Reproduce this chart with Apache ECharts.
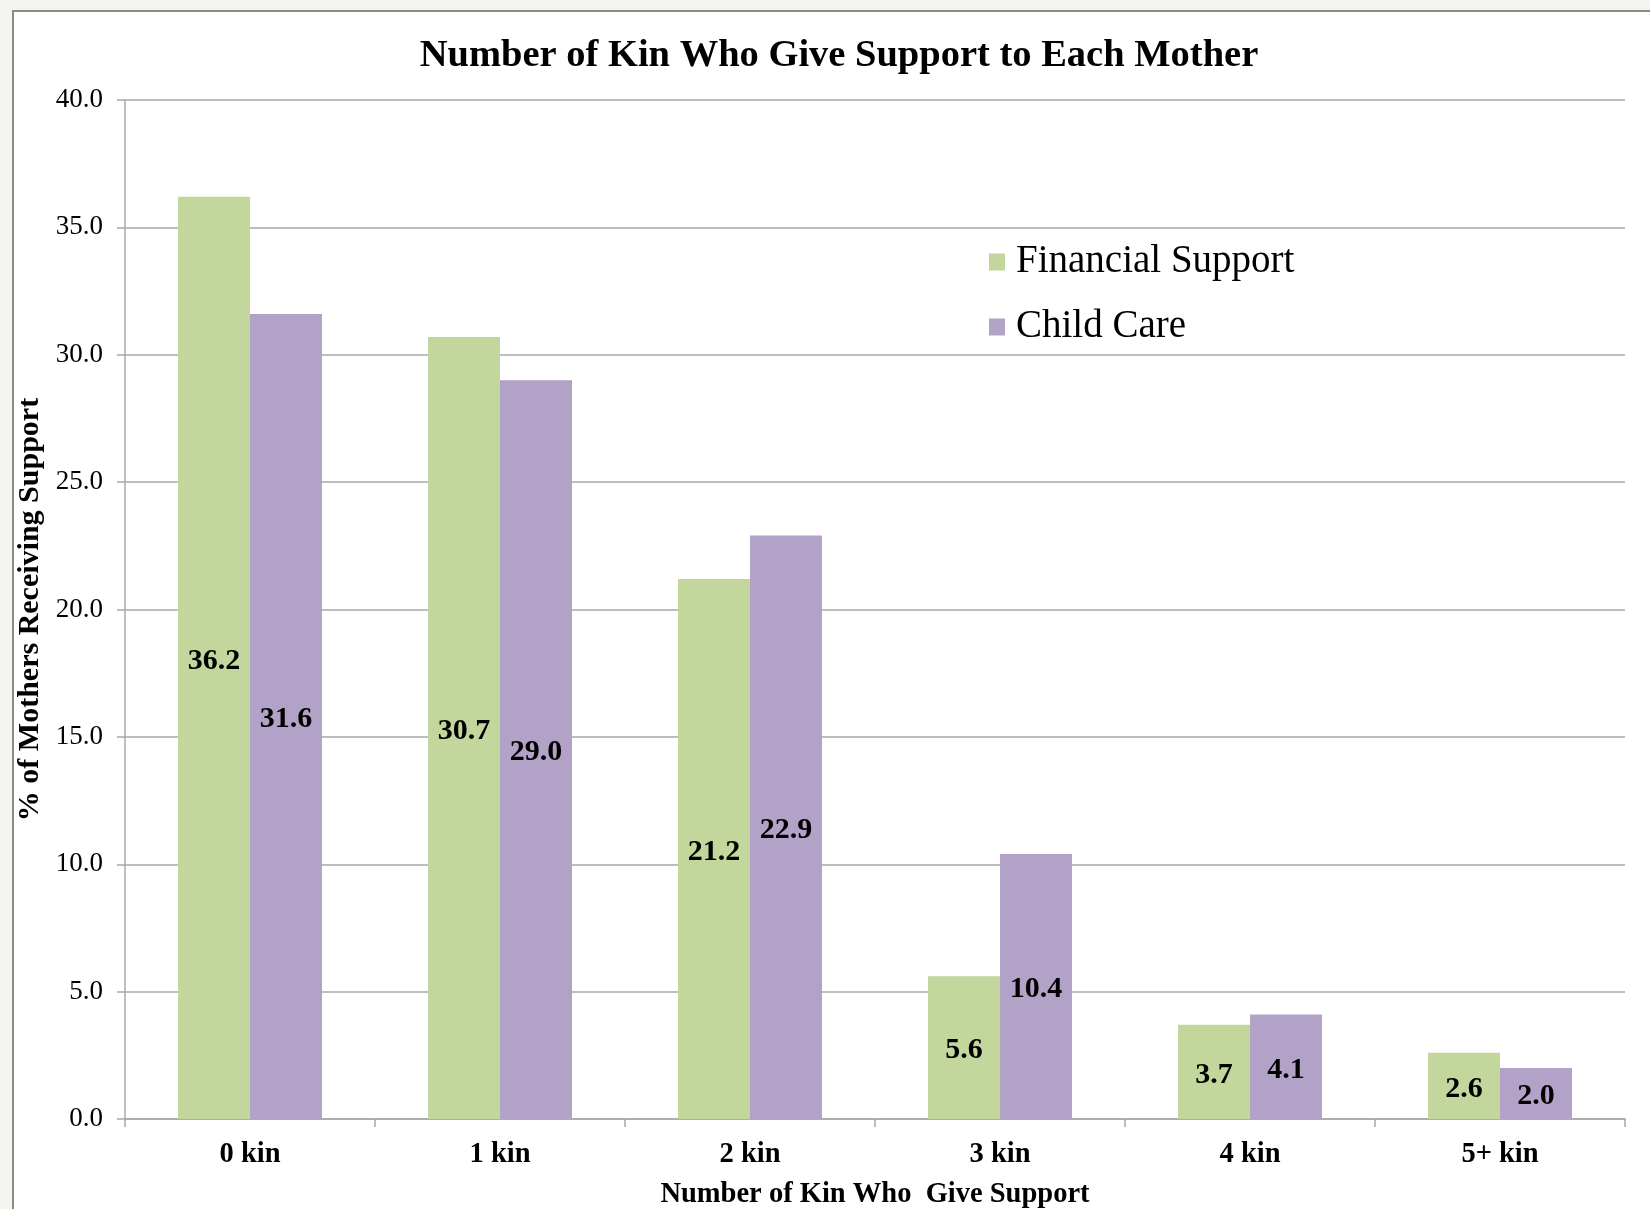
<!DOCTYPE html>
<html>
<head>
<meta charset="utf-8">
<title>Number of Kin Who Give Support to Each Mother</title>
<script src="https://cdn.jsdelivr.net/npm/echarts@6/dist/echarts.min.js"></script>
<style>
  html, body { margin: 0; padding: 0; background: #f4f3ef; }
  #frame {
    position: absolute; left: 12px; top: 10px; width: 1700px; height: 1300px;
    background: #ffffff; border-left: 2px solid #8a8a8a; border-top: 2px solid #8a8a8a;
  }
  #chart { position: absolute; left: 0; top: 0; width: 1650px; height: 1209px; }
</style>
</head>
<body>
<div id="frame"></div>
<div id="chart"></div>
<script>
// Share of mothers by number of kin giving each kind of support
const categories = ['0 kin', '1 kin', '2 kin', '3 kin', '4 kin', '5+ kin'];
const financialSupport = [36.2, 30.7, 21.2, 5.6, 3.7, 2.6];
const childCare = [31.6, 29.0, 22.9, 10.4, 4.1, 2.0];
const yTicks = { min: 0, max: 40, interval: 5 };

const serif = '"Liberation Serif", "Times New Roman", serif';
const gridColor = '#a8a8a8';

const chart = echarts.init(document.getElementById('chart'), null, { renderer: 'canvas' });

const valueLabel = {
  show: true,
  position: 'inside',
  offset: [0, 3],
  color: '#000',
  fontFamily: serif,
  fontWeight: 'bold',
  fontSize: 30,
  formatter: p => p.value.toFixed(1)
};

chart.setOption({
  animation: false,
  backgroundColor: 'transparent',
  title: {
    text: 'Number of Kin Who Give Support to Each Mother',
    left: 839,
    textAlign: 'center',
    top: 37,
    padding: 0,
    textStyle: { fontFamily: serif, fontWeight: 'bold', fontSize: 38.5, color: '#000' }
  },
  legend: {
    orient: 'vertical',
    left: 989,
    top: 242,
    padding: 0,
    icon: 'rect',
    itemWidth: 16,
    itemHeight: 17,
    itemGap: 25,
    textStyle: { fontFamily: serif, fontSize: 39, color: '#000', lineHeight: 40, padding: [0, 0, 0, 6] },
    data: ['Financial Support', 'Child Care']
  },
  grid: { left: 125, right: 25, top: 100, bottom: 90, containLabel: false, outerBoundsMode: 'none' },
  xAxis: {
    type: 'category',
    data: categories,
    name: 'Number of Kin Who  Give Support',
    nameLocation: 'middle',
    nameGap: 61,
    nameTextStyle: { fontFamily: serif, fontWeight: 'bold', fontSize: 28.5, color: '#000' },
    axisLine: { show: true, lineStyle: { color: gridColor, width: 1.5 } },
    axisTick: { show: true, length: 8, lineStyle: { color: gridColor, width: 1.5 } },
    axisLabel: { margin: 21, fontFamily: serif, fontWeight: 'bold', fontSize: 28.5, color: '#000' }
  },
  yAxis: {
    type: 'value',
    min: yTicks.min,
    max: yTicks.max,
    interval: yTicks.interval,
    name: '% of Mothers Receiving Support',
    nameLocation: 'middle',
    nameGap: 73,
    nameRotate: 90,
    nameTextStyle: { fontFamily: serif, fontWeight: 'bold', fontSize: 30, color: '#000' },
    axisLine: { show: true, lineStyle: { color: gridColor, width: 1.5 } },
    axisTick: { show: true, length: 8, lineStyle: { color: gridColor, width: 1.5 } },
    axisLabel: { margin: 22, fontFamily: serif, fontSize: 27, color: '#000', formatter: v => v.toFixed(1) },
    splitLine: { show: true, lineStyle: { color: gridColor, width: 1.5 } }
  },
  series: [
    {
      name: 'Financial Support',
      type: 'bar',
      data: financialSupport,
      barWidth: 72,
      barGap: '0%',
      itemStyle: { color: '#c3d69b' },
      label: valueLabel
    },
    {
      name: 'Child Care',
      type: 'bar',
      data: childCare,
      barWidth: 72,
      barGap: '0%',
      itemStyle: { color: '#b2a2c7' },
      label: valueLabel
    }
  ]
});
</script>
</body>
</html>
